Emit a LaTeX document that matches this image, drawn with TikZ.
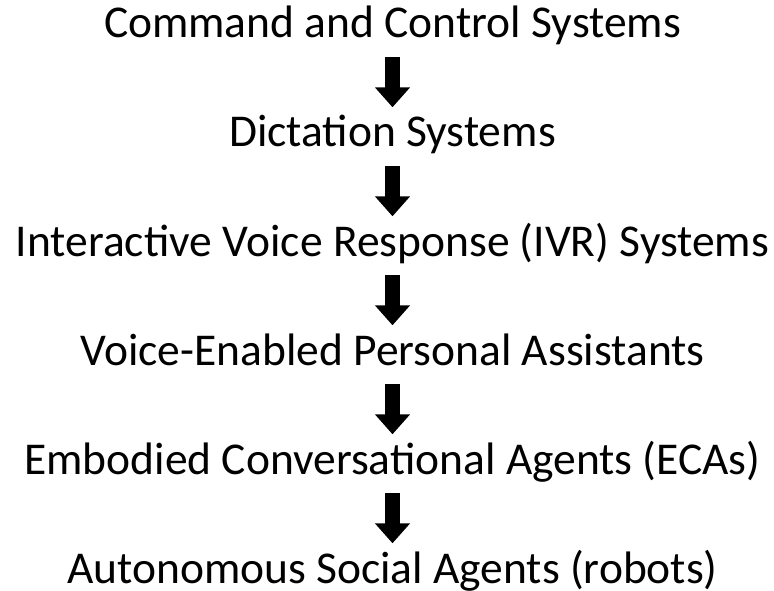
\documentclass[tikz,border=0pt]{standalone}
\usepackage{fontspec}
\setmainfont{Carlito}
\usepackage{tikz}
\usetikzlibrary{positioning}
\usetikzlibrary{arrows.meta}

\begin{document}
\begin{tikzpicture}[node distance=50pt,outer sep = 0pt,inner sep = 0pt,x=1pt,y=1pt]

	\tikzstyle{every node}=[font=\fontsize{45.5}{52}\selectfont]

	\tikzset{stage/.style={align=center,shape=rectangle,
		text height=39.7pt,text depth=19.3pt}}

	\tikzset{blockarrow/.style={line width=15pt,
		-{Triangle[width=34pt,length=20pt]}}}

	\useasboundingbox (0,0) rectangle (774,-591);

	% Stages, one below another.
	\node (command) [stage,anchor=base] at (392.5,-38) {Command and Control Systems};
	\node (dictation) [stage,below=of command] {Dictation Systems};
	\node (ivr) [stage,below=of dictation] {Interactive Voice Response (IVR) Systems};
	\node (assistants) [stage,below=of ivr] {Voice-Enabled Personal Assistants};
	\node (eca) [stage,below=of assistants] {Embodied Conversational Agents (ECAs)};
	\node (robots) [stage,below=of eca] {Autonomous Social Agents (robots)};

	% Arrows from each stage to the next.
	\draw [blockarrow] (command) -- (dictation);
	\draw [blockarrow] (dictation) -- (ivr);
	\draw [blockarrow] (ivr) -- (assistants);
	\draw [blockarrow] (assistants) -- (eca);
	\draw [blockarrow] (eca) -- (robots);
\end{tikzpicture}
\end{document}
